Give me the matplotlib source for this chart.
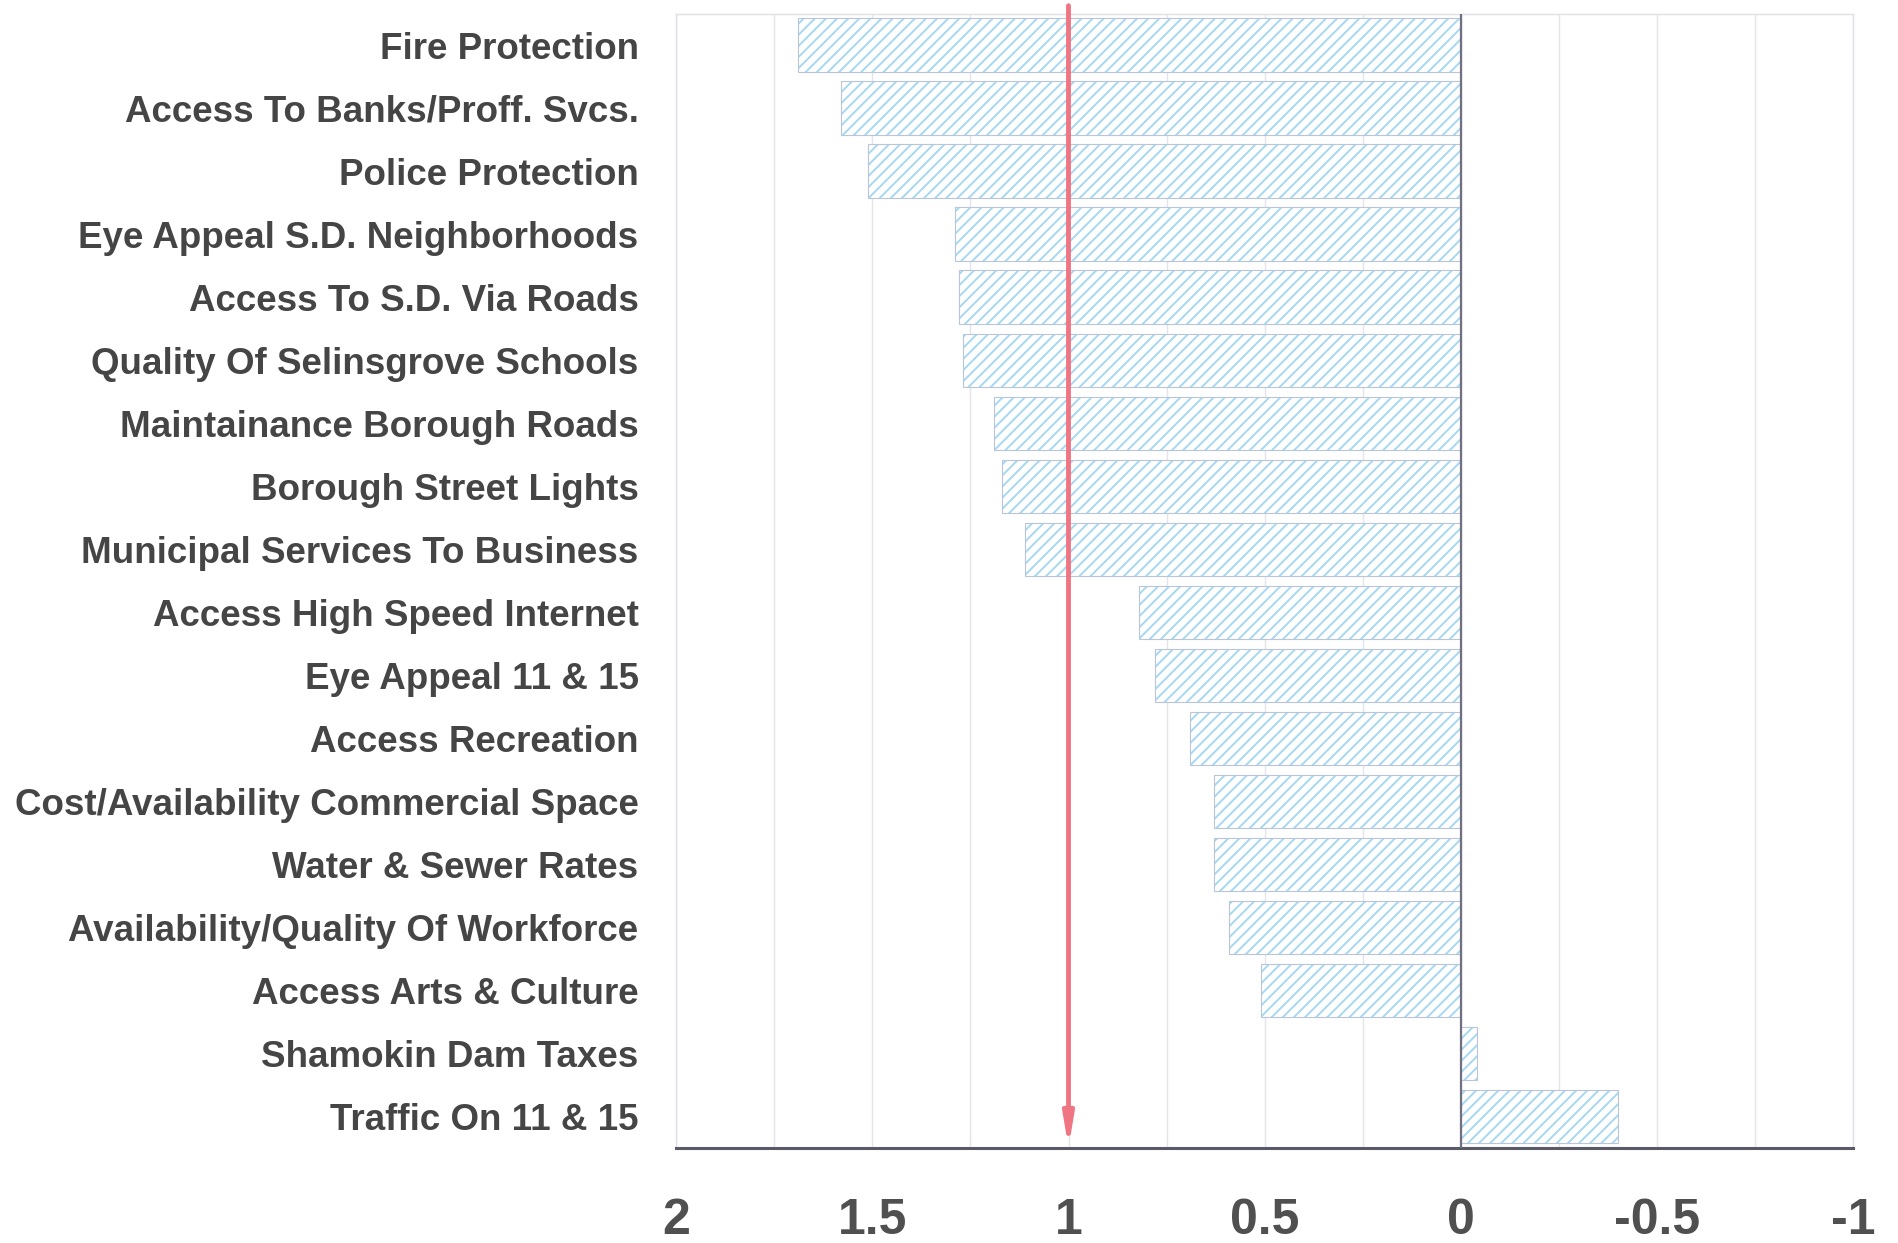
import numpy as np
import matplotlib.pyplot as plt
from matplotlib.ticker import MultipleLocator, FuncFormatter

# Survey items (top to bottom) and their scores
categories = [
    "Fire Protection",
    "Access To Banks/Proff. Svcs.",
    "Police Protection",
    "Eye Appeal S.D. Neighborhoods",
    "Access To S.D. Via Roads",
    "Quality Of Selinsgrove Schools",
    "Maintainance Borough Roads",
    "Borough Street Lights",
    "Municipal Services To Business",
    "Access High Speed Internet",
    "Eye Appeal 11 & 15",
    "Access Recreation",
    "Cost/Availability Commercial Space",
    "Water & Sewer Rates",
    "Availability/Quality Of Workforce",
    "Access Arts & Culture",
    "Shamokin Dam Taxes",
    "Traffic On 11 & 15",
]
scores = [1.69, 1.58, 1.51, 1.29, 1.28, 1.27, 1.19, 1.17, 1.11,
          0.82, 0.78, 0.69, 0.63, 0.63, 0.59, 0.51, -0.04, -0.40]
marker_value = 1.0

plt.rcParams['font.family'] = ['Liberation Sans', 'DejaVu Sans']
plt.rcParams['hatch.linewidth'] = 1.4

fig = plt.figure(figsize=(18.99, 12.43), dpi=100)
ax = fig.add_axes([0.356, 0.0764, 0.62, 0.9126])

y = np.arange(len(categories))
# hatched fill, then a thin outline
ax.barh(y, scores, height=0.85, color='white', hatch='///',
        edgecolor='#a6d8f2', linewidth=0, zorder=2)
ax.barh(y, scores, height=0.85, fill=False, edgecolor='#b9c6da',
        linewidth=0.8, zorder=3)

ax.set_xlim(2, -1)
ax.set_ylim(len(categories) - 0.5, -0.5)

ax.set_yticks(y)
ax.set_yticklabels(categories, fontsize=26.5, fontweight='bold', color='#454545')
ax.xaxis.set_major_locator(MultipleLocator(0.5))
ax.xaxis.set_minor_locator(MultipleLocator(0.25))
ax.xaxis.set_major_formatter(FuncFormatter(lambda v, p: f"{v:g}"))
ax.tick_params(axis='x', which='both', length=0, pad=36,
               labelsize=36, labelcolor='#505050')
for lab in ax.get_xticklabels():
    lab.set_fontweight('bold')
ax.tick_params(axis='y', length=0, pad=27)

ax.grid(axis='x', which='both', color='#e4e4ea', linewidth=1.0, zorder=0)
ax.axvline(0, color='#707080', linewidth=1.6, zorder=4)

for s in ['top', 'left', 'right']:
    ax.spines[s].set_color('#e0e0e6')
    ax.spines[s].set_linewidth(1.0)
ax.spines['bottom'].set_color('#5a5a66')
ax.spines['bottom'].set_linewidth(2.2)

# red marker arrow at 1.0
ax.annotate('', xy=(marker_value, 0.0), xycoords=('data', 'axes fraction'),
            xytext=(marker_value, 1.007), textcoords=('data', 'axes fraction'),
            arrowprops=dict(arrowstyle='-|>,head_length=1.8,head_width=0.3',
                            color='#f07582', linewidth=3.5, shrinkA=0, shrinkB=0),
            annotation_clip=False, zorder=5)

fig.savefig('out.png', dpi=100, facecolor='white')
